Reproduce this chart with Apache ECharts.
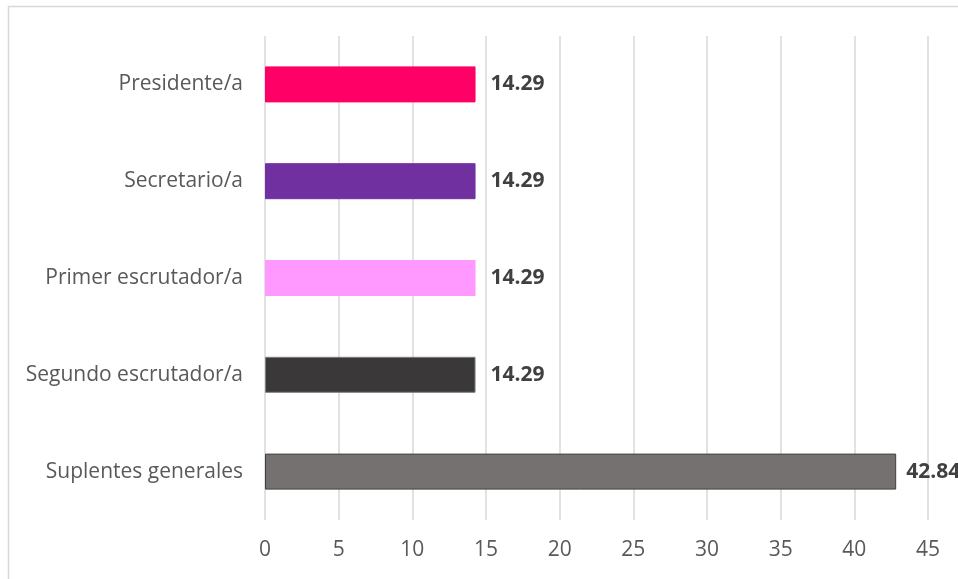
<!DOCTYPE html>
<html><head><meta charset="utf-8">
<script src="https://cdn.jsdelivr.net/npm/echarts@6/dist/echarts.min.js"></script>
<style>html,body{margin:0;padding:0;background:#fff}#c{width:958px;height:579px}</style>
</head><body><div id="c"></div>
<script>
const categories = ["Presidente/a", "Secretario/a", "Primer escrutador/a", "Segundo escrutador/a", "Suplentes generales"];
const values = [14.29, 14.29, 14.29, 14.29, 42.84];
const barColors = ["#FF0066", "#7030A0", "#FF99FF", "#3A3838", "#767171"];
const barBorders = ["#FF0066", "#7030A0", "#FF99FF", "#7F7F7F", "#404040"];
const xTicks = [0, 5, 10, 15, 20, 25, 30, 35, 40, 45];

const chart = echarts.init(document.getElementById('c'));
chart.setOption({
  animation: false,
  graphic: [{type:'rect', shape:{x:8.5,y:6.5,width:1000,height:700}, style:{fill:'none', stroke:'#D9D9D9', lineWidth:1.5}}],
  grid: {left: 265, right: 30, top: 36, bottom: 59, containLabel: false},
  xAxis: {
    type: 'value', min: xTicks[0], max: xTicks[xTicks.length-1], interval: 5,
    axisLine: {show:false}, axisTick: {show:false},
    axisLabel: {color:'#595959', fontSize:21, fontFamily:'Open Sans', margin:20},
    splitLine: {show:true, lineStyle:{color:'#D9D9D9', width:1.5}}
  },
  yAxis: {
    type: 'category', data: categories, inverse: true,
    axisLine: {show:false}, axisTick: {show:false},
    axisLabel: {color:'#595959', fontSize:21, fontFamily:'Open Sans', margin:22}
  },
  series: [{
    type: 'bar', barWidth: 36,
    data: values.map((v,i)=>({value:v, itemStyle:{color:barColors[i], borderColor:barBorders[i], borderWidth:1},
      label: {distance: v > 40 ? 10 : 15}})),
    label: {show:true, position:'right', color:'#404040', fontWeight:'bold', fontSize:21, fontFamily:'Open Sans', formatter: p => p.value.toFixed(2)}
  }]
});
</script></body></html>
